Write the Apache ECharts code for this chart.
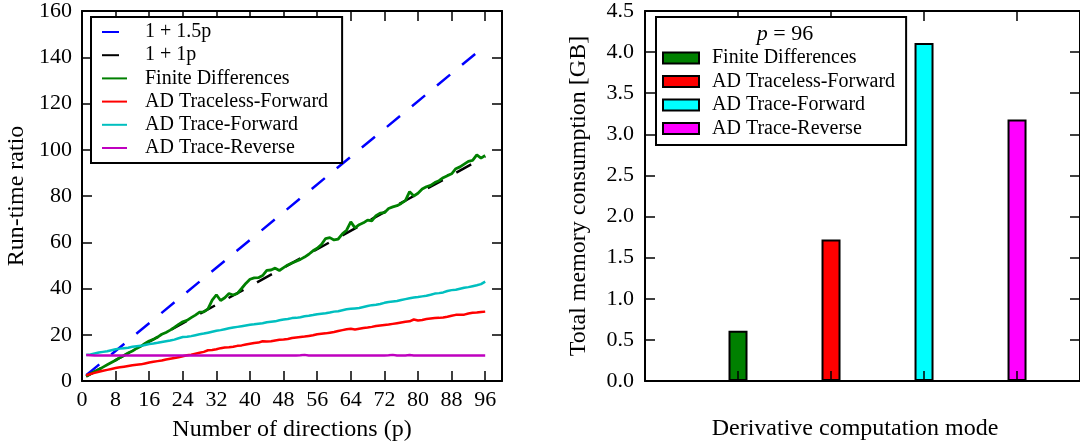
<!DOCTYPE html>
<html><head><meta charset="utf-8">
<script src="https://cdn.jsdelivr.net/npm/echarts@6/dist/echarts.min.js"></script>
<style>html,body{margin:0;padding:0;background:#fff}#c{width:1080px;height:448px}</style>
</head><body><div id="c"></div>
<script>
// ---------- data ----------
const directions = [1,2,3,4,5,6,7,8,9,10,11,12,13,14,15,16,17,18,19,20,21,22,23,24,25,26,27,28,29,30,31,32,33,34,35,36,37,38,39,40,41,42,43,44,45,46,47,48,49,50,51,52,53,54,55,56,57,58,59,60,61,62,63,64,65,66,67,68,69,70,71,72,73,74,75,76,77,78,79,80,81,82,83,84,85,86,87,88,89,90,91,92,93,94,95,96];
const finiteDifferences = [2.0,3.0,4.0,5.0,6.0,7.0,8.0,9.0,10.1,11.0,12.1,13.0,14.1,15.0,16.2,17.3,18.0,19.0,20.2,21.0,22.0,23.2,24.5,25.6,26.2,27.4,28.5,29.8,29.9,31.2,35.0,37.3,34.8,36.0,37.8,37.2,37.9,40.0,42.2,44.0,44.6,44.7,45.6,47.8,48.0,48.8,47.8,49.0,50.2,51.0,51.8,52.6,53.6,54.8,56.3,57.4,59.0,61.6,62.0,61.0,61.4,63.6,65.2,68.8,66.2,67.6,68.4,69.6,69.3,71.5,72.6,72.8,74.6,75.3,75.8,76.8,78.0,81.9,80.0,81.2,83.0,84.0,84.6,85.8,86.6,87.9,88.8,89.6,91.8,92.6,93.8,95.0,95.4,97.8,96.4,97.5];
const tracelessForward = [2.5,3.0,3.5,4.0,4.4,4.8,5.2,5.6,5.9,6.2,6.5,6.8,7.0,7.2,7.6,8.0,8.3,8.6,8.9,9.3,9.6,9.9,10.3,10.7,11.1,11.4,11.8,12.2,12.6,13.3,13.4,13.7,14.2,14.5,14.6,14.8,15.2,15.4,15.8,16.1,16.4,16.6,17.2,17.1,17.2,17.5,17.8,17.9,18.2,18.6,18.8,19.0,19.2,19.5,19.8,20.2,20.4,20.6,20.9,21.2,21.6,22.0,22.4,22.6,22.3,22.6,22.9,23.1,23.4,23.8,24.0,24.2,24.4,24.7,25.0,25.3,25.6,25.8,26.6,26.2,26.4,26.8,27.0,27.2,27.3,27.5,27.8,28.2,28.6,28.6,28.7,29.2,29.5,29.6,29.8,30.0];
const traceForward = [11.2,11.5,11.9,12.3,12.6,12.9,13.3,13.7,14.0,14.2,14.4,14.8,15.0,15.2,15.6,16.0,16.2,16.5,16.9,17.2,17.5,17.9,18.5,19.0,19.1,19.4,19.8,20.2,20.5,20.9,21.3,21.7,22.0,22.4,22.8,23.1,23.4,23.7,24.0,24.3,24.5,24.8,25.0,25.4,25.6,25.8,26.3,26.6,26.8,27.2,27.3,27.6,28.0,28.2,28.5,28.9,29.1,29.3,29.6,30.0,30.2,30.6,31.0,31.2,31.4,31.6,32.0,32.4,32.8,33.0,33.3,33.8,34.2,34.4,34.6,35.0,35.4,35.8,36.1,36.3,36.6,36.9,37.3,37.8,38.0,38.3,38.9,39.3,39.5,39.9,40.3,40.6,41.0,41.4,41.9,43.0];
const traceReverse = [11.2,11.1,11.0,11.0,11.0,11.0,11.0,11.0,11.0,11.0,11.0,11.0,11.0,11.0,11.0,11.0,11.0,11.0,11.0,11.0,11.0,11.0,11.0,11.0,11.0,11.0,11.0,11.0,11.0,11.0,11.0,11.0,11.0,11.0,11.0,11.0,11.0,11.0,11.0,11.0,11.0,11.0,11.0,11.0,11.0,11.0,11.0,11.0,11.0,11.0,11.0,11.1,11.3,11.0,11.0,11.0,11.0,11.0,11.0,11.0,11.0,11.0,11.0,11.0,11.0,11.0,11.0,11.0,11.0,11.0,11.0,11.0,11.1,11.3,11.0,11.0,11.0,11.2,11.0,11.0,11.0,11.0,11.0,11.0,11.0,11.0,11.0,11.0,11.0,11.0,11.0,11.0,11.0,11.0,11.0,11.0];
const boundP = [1, 96];
const bound15 = [2.5, 145];   // 1 + 1.5p
const bound1 = [2, 97];       // 1 + 1p

const modes = ['Finite Differences', 'AD Traceless-Forward', 'AD Trace-Forward', 'AD Trace-Reverse'];
const modePositions = [1, 2, 3, 4];
const memoryGB = [0.61, 1.72, 4.11, 3.18];

// ---------- chart ----------
const FONT = 'Liberation Serif';
const SMALL_FONT = 'Times New Roman';
const lineColors = ['#0000ff', '#000000', '#008000', '#ff0000', '#00bfbf', '#bf00bf'];
const barColors = ['#008000', '#ff0000', '#00ffff', '#ff00ff'];
const ZW = '\u200b';

function pairs(xs, ys) { return xs.map((x, i) => [x, ys[i]]); }

const tickStyle = { show: true, inside: true, length: 10, lineStyle: { color: '#000', width: 1.5 } };
const lineAxis = { show: true, onZero: false, lineStyle: { color: '#000', width: 2 } };
function labelStyle(extra) { return Object.assign({ color: '#000', fontFamily: SMALL_FONT, fontSize: 22 }, extra); }
const nameStyle = { color: '#000', fontFamily: FONT, fontSize: 24 };

const lineNames = ['1 + 1.5p', '1 + 1p', 'Finite Differences', 'AD Traceless-Forward', 'AD Trace-Forward', 'AD Trace-Reverse'];
const lineData = [pairs(boundP, bound15), pairs(boundP, bound1), pairs(directions, finiteDifferences),
  pairs(directions, tracelessForward), pairs(directions, traceForward), pairs(directions, traceReverse)];

const series = lineNames.map((n, i) => ({
  name: n, type: 'line', xAxisIndex: 0, yAxisIndex: 0,
  data: lineData[i], symbol: 'none', showSymbol: false, animation: false,
  lineStyle: { color: lineColors[i], width: i === 2 ? 2.8 : 2.5, type: i < 2 ? [17, 15.5] : 'solid', cap: 'butt' },
  itemStyle: { color: lineColors[i] }, z: i < 2 ? 2 : 3
}));

modes.forEach((m, i) => {
  series.push({
    name: m + ZW, type: 'bar', xAxisIndex: 2, yAxisIndex: 2,
    data: [[modePositions[i], memoryGB[i]]], barWidth: 19, barGap: '-100%', animation: false,
    itemStyle: { color: barColors[i], borderColor: '#000', borderWidth: 2 }
  });
});

function legendText(pad) {
  return { fontFamily: SMALL_FONT, fontSize: 20, fontWeight: 'normal', fontStyle: 'normal',
    lineHeight: 20, color: '#000', padding: [0, 0, 0, pad] };
}

const option = {
  backgroundColor: '#fff',
  animation: false,
  textStyle: { fontFamily: FONT, color: '#000' },
  title: {
    text: '{i|p} = 96', left: 785, top: 23, textAlign: 'center', padding: 0, z: 30,
    textStyle: { fontFamily: SMALL_FONT, fontSize: 22, fontWeight: 'normal', color: '#000',
      rich: { i: { fontFamily: SMALL_FONT, fontSize: 22, fontStyle: 'italic', color: '#000' } } }
  },
  grid: [
    { left: 82, top: 8, width: 420, height: 373 },
    { left: 645, top: 8, width: 435, height: 373 }
  ],
  legend: [
    {
      data: lineNames, orient: 'vertical', left: 91, top: 17, z: 20,
      padding: [5, 14, 5, 10], itemGap: 3.2, itemWidth: 25, itemHeight: 14,
      backgroundColor: '#fff', borderColor: '#000', borderWidth: 2, borderRadius: 0,
      selectedMode: false,
      itemStyle: { opacity: 0 },
      textStyle: legendText(13)
    },
    {
      data: modes.map(m => m + ZW), orient: 'vertical', left: 656, top: 17, z: 20,
      padding: [31, 11, 6.5, 6], itemGap: 3.5, itemWidth: 36, itemHeight: 11, icon: 'rect',
      backgroundColor: '#fff', borderColor: '#000', borderWidth: 2, borderRadius: 0,
      selectedMode: false,
      formatter: n => n.replace(ZW, ''),
      itemStyle: { borderColor: '#000', borderWidth: 2 },
      textStyle: legendText(8)
    }
  ],
  xAxis: [
    { type: 'value', gridIndex: 0, min: 0, max: 100, interval: 8, position: 'bottom', z: 10,
      axisLine: lineAxis, axisTick: tickStyle, splitLine: { show: false },
      axisLabel: labelStyle({ margin: 8, showMaxLabel: false }),
      name: 'Number of directions (p)', nameLocation: 'middle', nameGap: 37, nameTextStyle: nameStyle },
    { type: 'value', gridIndex: 0, min: 0, max: 100, interval: 8, position: 'top', z: 10,
      axisLine: lineAxis, axisTick: tickStyle, splitLine: { show: false }, axisLabel: { show: false } },
    { type: 'value', gridIndex: 1, min: 0, max: 4.677, interval: 1, position: 'bottom', z: 10,
      axisLine: lineAxis, axisTick: tickStyle, splitLine: { show: false }, axisLabel: { show: false },
      name: 'Derivative computation mode', nameLocation: 'middle', nameGap: 36,
      nameTextStyle: Object.assign({ padding: [0, 15, 0, 0] }, nameStyle) },
    { type: 'value', gridIndex: 1, min: 0, max: 4.677, interval: 1, position: 'top', z: 10,
      axisLine: lineAxis, axisTick: tickStyle, splitLine: { show: false }, axisLabel: { show: false } }
  ],
  yAxis: [
    { type: 'value', gridIndex: 0, min: 0, max: 160, interval: 20, position: 'left', z: 10,
      axisLine: lineAxis, axisTick: tickStyle, splitLine: { show: false },
      axisLabel: labelStyle({ margin: 10 }),
      name: 'Run-time ratio', nameLocation: 'middle', nameGap: 53, nameTextStyle: nameStyle },
    { type: 'value', gridIndex: 0, min: 0, max: 160, interval: 20, position: 'right', z: 10,
      axisLine: lineAxis, axisTick: tickStyle, splitLine: { show: false }, axisLabel: { show: false } },
    { type: 'value', gridIndex: 1, min: 0, max: 4.5, interval: 0.5, position: 'left', z: 10,
      axisLine: lineAxis, axisTick: tickStyle, splitLine: { show: false },
      axisLabel: labelStyle({ margin: 11, formatter: v => v.toFixed(1) }),
      name: 'Total memory consumption [GB]', nameLocation: 'middle', nameGap: 54, nameTextStyle: nameStyle },
    { type: 'value', gridIndex: 1, min: 0, max: 4.5, interval: 0.5, position: 'right', z: 10,
      axisLine: lineAxis, axisTick: tickStyle, splitLine: { show: false }, axisLabel: { show: false } }
  ],
  series: series
};

const chart = echarts.init(document.getElementById('c'), null, { renderer: 'canvas' });
chart.setOption(option);
</script></body></html>
